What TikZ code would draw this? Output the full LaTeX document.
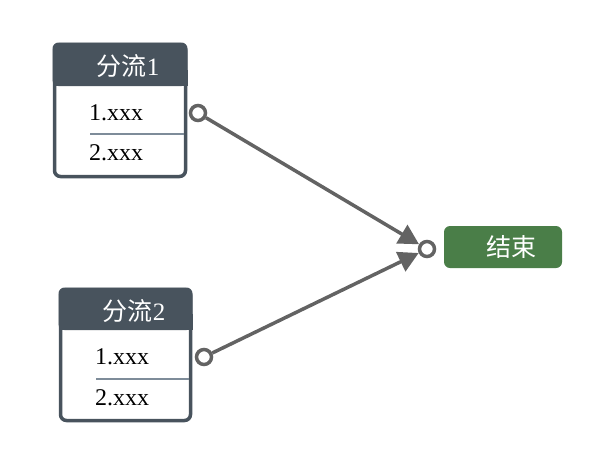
\documentclass[tikz,border=0pt]{standalone}
\usepackage{fontspec}
\setmainfont{Liberation Serif}
\newfontfamily\cjk{Noto Sans CJK SC}
\usetikzlibrary{arrows.meta}
\definecolor{slate}{HTML}{48535D}
\definecolor{rule}{HTML}{7E8C99}
\definecolor{wire}{HTML}{636363}
\definecolor{leaf}{HTML}{4A7E48}
\begin{document}
\begin{tikzpicture}[x=1pt,y=-1pt,every node/.style={font=\fontsize{24}{27}\selectfont,inner sep=0pt},
  flowbox/.style={draw=slate,line width=3.5pt,fill=white,rounded corners=6pt},
  headtext/.style={text=white,font=\fontsize{25}{28}\selectfont},
  port/.style={circle,draw=wire,line width=3.5pt,fill=white,minimum size=15pt},
  conn/.style={draw=wire,line width=3.5pt,-{Triangle[length=20pt,width=21pt]}}]
\useasboundingbox (0,0) rectangle (613,469);
% branch 1
\path[flowbox] (54.5,44.5) rectangle (185.5,176.5);
\fill[slate,rounded corners=6pt] (52.5,42.5) rectangle (187.5,86);
\fill[slate] (52.5,70) rectangle (187.5,86);
\node[headtext] (h1) at (128,66) {{\cjk 分流}1};
\node[anchor=west] (a1) at (89,113) {1.xxx};
\node[anchor=west] (c1) at (89,153) {2.xxx};
\draw[rule,line width=1.5pt] (90,134) -- (184,134);
\node[port] (p1) at (198,113) {};
% branch 2
\path[flowbox] (60.5,289.5) rectangle (190.5,420.5);
\fill[slate,rounded corners=6pt] (58.5,287.5) rectangle (192.5,330);
\fill[slate] (58.5,314) rectangle (192.5,330);
\node[headtext] (h2) at (134,311) {{\cjk 分流}2};
\node[anchor=west] (a2) at (95,357) {1.xxx};
\node[anchor=west] (c2) at (95,398) {2.xxx};
\draw[rule,line width=1.5pt] (96,379) -- (189,379);
\node[port] (p2) at (204,357) {};
% end
\node[port] (pe) at (427,249) {};
\node[fill=leaf,rounded corners=6pt,minimum width=118pt,minimum height=42pt] (end) at (503,247) {};
\node[headtext] (endtxt) at (511,247) {\cjk 结束};
\draw[conn] (p1) -- (pe);
\draw[conn] (p2) -- (pe);
\end{tikzpicture}
\end{document}
